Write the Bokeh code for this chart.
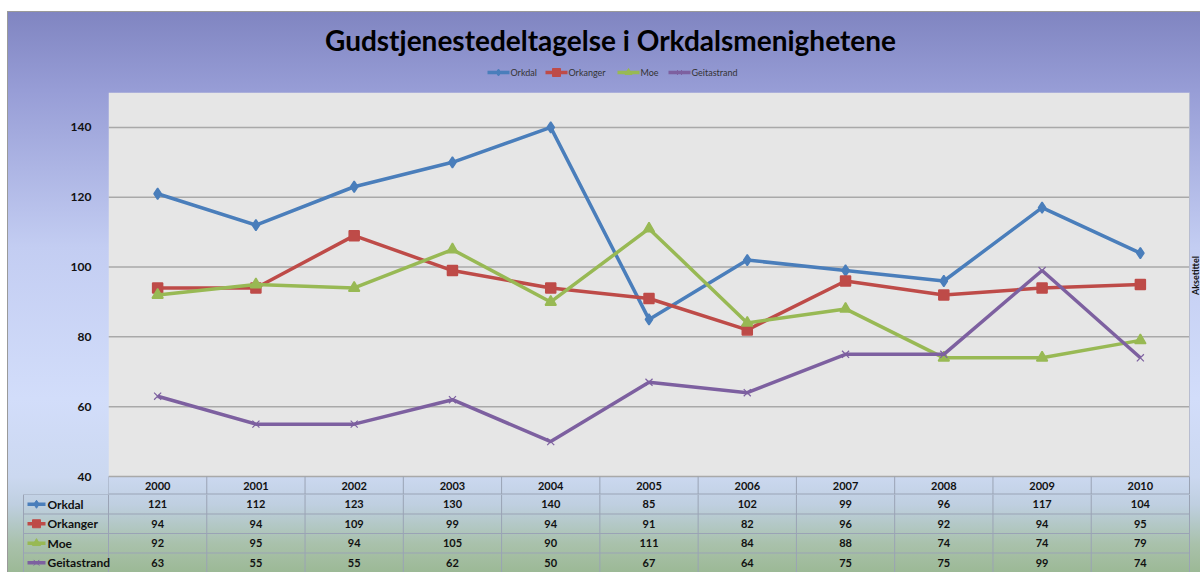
import math
from bokeh.plotting import figure
from bokeh.models import ColumnDataSource, FixedTicker, Range1d, Label
from bokeh.layouts import column
from bokeh.embed import file_html
from bokeh.resources import INLINE
from bokeh.core.properties import value

# ---------------- data ----------------
years = ["2000", "2001", "2002", "2003", "2004", "2005", "2006", "2007", "2008", "2009", "2010"]
orkdal = [121, 112, 123, 130, 140, 85, 102, 99, 96, 117, 104]
orkanger = [94, 94, 109, 99, 94, 91, 82, 96, 92, 94, 95]
moe = [92, 95, 94, 105, 90, 111, 84, 88, 74, 74, 79]
geitastrand = [63, 55, 55, 62, 50, 67, 64, 75, 75, 99, 74]
series_names = ["Orkdal", "Orkanger", "Moe", "Geitastrand"]
y_ticks = [40, 60, 80, 100, 120, 140]
title_text = "Gudstjenestedeltagelse i Orkdalsmenighetene"
axis_title = "Aksetittel"

series_values = [orkdal, orkanger, moe, geitastrand]
colors = ["#4a7ebb", "#be4b48", "#98b954", "#7d60a0"]
markers = ["diamond", "square", "triangle", "x"]
marker_sizes = [11, 10, 11, 10]

FONT = "Lato"
W = 1192
H_HEAD = 80          # title + legend band
PLOT_PX = 384        # height of the grey plot area
HDR_PX = 18          # table header row (years)
H_TAB = 78           # remaining table rows
LEFT = 100
RIGHT = 11
Y0, Y1 = 40, 150
n = len(years)
xs = list(range(n))
ppu = (W - LEFT - RIGHT) / n          # pixels per category
upp = (Y1 - Y0) / PLOT_PX             # y-units per pixel
y_start = Y0 - HDR_PX * upp
x_end = n - 0.5 + RIGHT / ppu

# ---------------- header: title + legend ----------------
h = figure(width=W, height=H_HEAD, x_range=Range1d(0, W), y_range=Range1d(H_HEAD, 0),
           x_axis_location=None, y_axis_location=None, output_backend="svg", toolbar_location=None,
           min_border_left=0, min_border_right=0, min_border_top=0, min_border_bottom=0)
h.border_fill_alpha = 0
h.background_fill_alpha = 0
h.outline_line_color = None
h.grid.visible = False
h.text(x=[602], y=[27], text=[title_text], text_align="center", text_baseline="middle",
       text_font=value(FONT), text_font_style="bold", text_font_size="28px", text_color="#000000")
leg_x = [479, 537, 609, 660]          # left edge of each legend entry (px)
leg_y = 60
for lx, name, c, m in zip(leg_x, series_names, colors, markers):
    h.segment(x0=[lx], y0=[leg_y], x1=[lx + 22], y1=[leg_y], line_color=c, line_width=3.5)
    h.scatter(x=[lx + 11], y=[leg_y], marker=m, size=7 if m != "square" else 8,
              fill_color=c, line_color=c)
    h.text(x=[lx + 23], y=[leg_y], text=[name], text_align="left", text_baseline="middle",
           text_font=value(FONT), text_font_size="9px", text_color="#333333")

# ---------------- main chart (plot area + year header row) ----------------
p = figure(width=W, height=PLOT_PX + HDR_PX, x_range=Range1d(-0.5, x_end),
           y_range=Range1d(y_start, Y1),
           x_axis_location=None, output_backend="svg", toolbar_location=None,
           min_border_left=LEFT, min_border_right=0, min_border_bottom=0, min_border_top=0)
p.border_fill_alpha = 0
p.background_fill_alpha = 0
p.outline_line_color = None
p.grid.visible = False
p.yaxis.ticker = FixedTicker(ticks=y_ticks)
p.yaxis.axis_line_color = None
p.yaxis.major_tick_line_color = None
p.yaxis.minor_tick_line_color = None
p.yaxis.major_label_text_font = FONT
p.yaxis.major_label_text_font_style = "bold"
p.yaxis.major_label_text_font_size = "12px"
p.yaxis.major_label_text_color = "#111111"
p.yaxis.major_label_standoff = 11

# grey plot area and its horizontal gridlines
p.quad(left=[-0.5], right=[n - 0.5], bottom=[Y0], top=[Y1], fill_color="#e6e6e6",
       line_color=None)
p.segment(x0=[-0.5] * len(y_ticks), y0=y_ticks, x1=[n - 0.5] * len(y_ticks), y1=y_ticks,
          line_color="#a9a9a9", line_width=1.5)
p.segment(x0=[n - 0.5], y0=[y_start], x1=[n - 0.5], y1=[Y1], line_color="#b8bdd0", line_width=1)

for name, vals, c, m, s in zip(series_names, series_values, colors, markers, marker_sizes):
    src = ColumnDataSource(dict(x=xs, y=vals))
    p.line("x", "y", source=src, line_color=c, line_width=3.5)
    p.scatter("x", "y", source=src, marker=m, size=s, fill_color=c, line_color=c,
              line_width=1.5 if m != "x" else 1.2)

# year header row of the data table
p.segment(x0=[k - 0.5 for k in range(n + 1)], y0=[y_start] * (n + 1),
          x1=[k - 0.5 for k in range(n + 1)], y1=[Y0] * (n + 1), line_color="#9aa3b5", line_width=1)
p.segment(x0=[-0.5], y0=[y_start], x1=[n - 0.5], y1=[y_start], line_color="#9aa3b5", line_width=2)
p.text(x=xs, y=[Y0 - HDR_PX / 2 * upp] * n, text=years, text_align="center", text_baseline="middle",
       text_font=value(FONT), text_font_style="bold", text_font_size="11px", text_color="#111111")

# secondary axis title at the right edge
p.add_layout(Label(x=n - 0.5 + 5.5 / ppu, y=Y1 - 183 * upp, text=axis_title, angle=math.pi / 2,
                   text_align="center", text_baseline="middle", text_font=FONT,
                   text_font_style="bold", text_font_size="9px", text_color="#111111"))

# ---------------- data table rows ----------------
x_start = -0.5 - (LEFT - 12) / ppu
x_tab_left = -0.5 - (LEFT - 15) / ppu
rows = len(series_names)

t = figure(width=W, height=H_TAB, x_range=Range1d(x_start, x_end), y_range=Range1d(rows, 0),
           x_axis_location=None, y_axis_location=None, output_backend="svg", toolbar_location=None,
           min_border_left=12, min_border_right=0, min_border_bottom=0, min_border_top=0)
t.border_fill_alpha = 0
t.background_fill_alpha = 0
t.outline_line_color = None
t.grid.visible = False

gx0, gy0, gx1, gy1 = [], [], [], []
for k in range(n + 1):
    gx0.append(k - 0.5); gx1.append(k - 0.5); gy0.append(0); gy1.append(rows)
gx0.append(x_tab_left); gx1.append(x_tab_left); gy0.append(0); gy1.append(rows)
for r in range(0, rows + 1):
    gx0.append(x_tab_left); gx1.append(n - 0.5); gy0.append(r); gy1.append(r)
t.segment(x0=gx0, y0=gy0, x1=gx1, y1=gy1, line_color="#9aa3b5", line_width=1)

for r, (name, vals, c, m) in enumerate(zip(series_names, series_values, colors, markers)):
    t.text(x=xs, y=[r + 0.5] * n, text=[str(v) for v in vals], text_align="center",
           text_baseline="middle", text_font=value(FONT), text_font_style="bold",
           text_font_size="11px", text_color="#111111")
    lx0 = x_tab_left + 4 / ppu
    lx1 = x_tab_left + 22 / ppu
    t.segment(x0=[lx0], y0=[r + 0.5], x1=[lx1], y1=[r + 0.5], line_color=c, line_width=3.5)
    t.scatter(x=[(lx0 + lx1) / 2], y=[r + 0.5], marker=m, size=8, fill_color=c, line_color=c)
    t.text(x=[lx1 + 2 / ppu], y=[r + 0.5], text=[name], text_align="left", text_baseline="middle",
           text_font=value(FONT), text_font_style="bold", text_font_size="12px", text_color="#111111")

gradient = ("linear-gradient(to bottom, #8085c1 0%, #979dd6 14%, #c3cdf2 42%, #d2ddfa 69%, "
            "#cbd8f0 83%, #bfcfe0 88%, #b3c8c6 91.5%, #a9c1ab 95%, #9cb996 100%)")
layout = column(column(h), column(p), column(t), spacing=0,
                styles={"background": gradient, "border-left": "1px solid #9a9a9a",
                        "border-top": "1px solid #9a9a9a", "margin-left": "7px",
                        "margin-top": "11px"})

open("out.html", "w").write(file_html(layout, INLINE))
